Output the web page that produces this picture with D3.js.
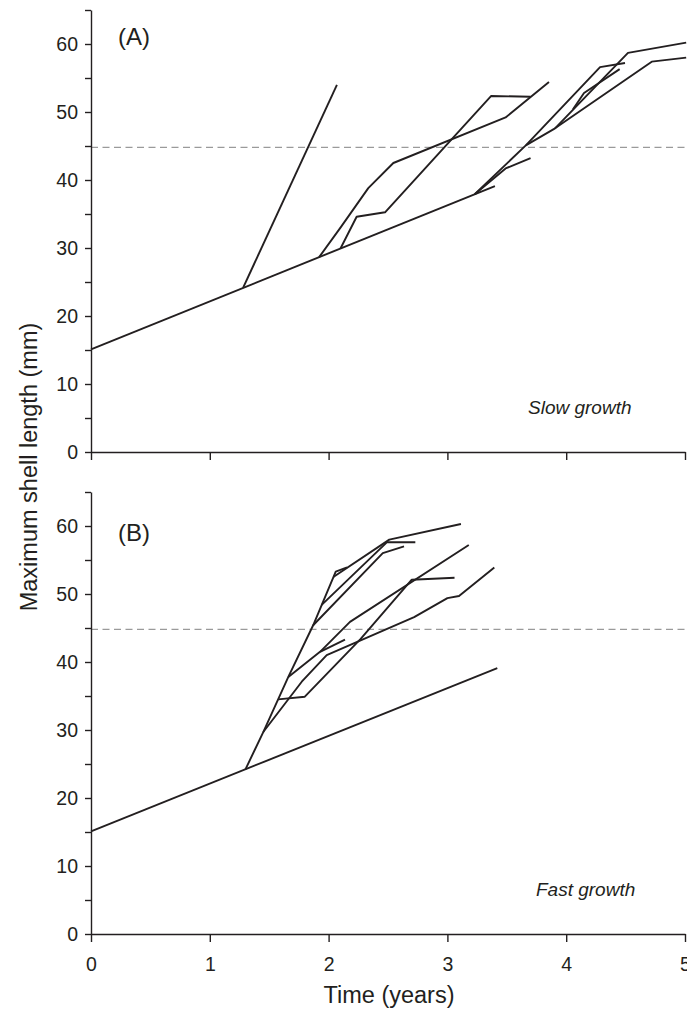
<!DOCTYPE html>
<html>
<head>
<meta charset="utf-8">
<script src="https://cdn.jsdelivr.net/npm/d3@7"></script>
<style>
  body { margin: 0; background: #fff; }
  text { font-family: "Liberation Sans", Arial, sans-serif; fill: #231f20; }
  .axis path, .axis line { stroke: #231f20; stroke-width: 1.4; }
  .axis text { font-size: 19.5px; fill: #231f20; }
</style>
</head>
<body>
<script>
// Size of the picture
var w = 687;
var h = 1009;

// Tick values
var years = [0, 1, 2, 3, 4, 5];
var lengthTicks = [0, 5, 10, 15, 20, 25, 30, 35, 40, 45, 50, 55, 60, 65];

// Size at maturity (dashed line), mm
var maturity = 44.8;

// Panel A, slow growth: [time (years), length (mm)]
var slowBaseline = [[0, 15.1], [3.40, 39.1]];
var slowTracks = [
  [[1.28, 24.14], [2.07, 54.0]],
  [[1.92, 28.65], [2.10, 33.0], [2.334, 38.8], [2.545, 42.5], [3.49, 49.2], [3.855, 54.4]],
  [[2.10, 29.92], [2.236, 34.6], [2.475, 35.25], [3.367, 52.35], [3.70, 52.25]],
  [[3.23, 37.9], [3.49, 41.7], [3.70, 43.2]],
  [[3.23, 37.9], [3.66, 45.1], [4.285, 56.6], [4.495, 57.2]],
  [[3.66, 45.1], [3.906, 47.6], [4.72, 57.4], [5.01, 58.0]],
  [[3.906, 47.6], [4.52, 58.7], [5.01, 60.2]],
  [[4.057, 50.4], [4.15, 52.8], [4.45, 56.3]]
];

// Panel B, fast growth
var fastBaseline = [[0, 15.1], [3.42, 39.1]];
var fastTracks = [
  [[1.30, 24.2], [1.45, 29.7], [1.661, 37.8], [1.87, 45.4], [2.06, 53.3], [2.155, 53.9]],
  [[2.04, 52.5], [2.511, 58.0], [3.114, 60.3]],
  [[1.942, 48.4], [2.49, 57.6], [2.73, 57.6]],
  [[1.87, 45.4], [2.456, 56.0], [2.635, 57.0]],
  [[1.661, 37.8], [1.928, 41.5], [2.18, 45.9], [3.18, 57.2]],
  [[1.928, 41.5], [2.138, 43.3]],
  [[1.45, 29.7], [1.774, 37.1], [1.984, 41.0], [2.72, 46.6], [3.0, 49.4], [3.098, 49.7], [3.395, 53.9]],
  [[1.575, 34.5], [1.80, 34.9], [2.27, 43.4], [2.70, 52.1], [3.06, 52.4]]
];

var svg = d3.select("body")
  .append("svg")
  .attr("width", w)
  .attr("height", h);

var xScale = d3.scaleLinear()
  .domain([0, 5])
  .range([91, 685]);

function drawPanel(y0, baseline, tracks, label, note, showYears) {
  var yScale = d3.scaleLinear()
    .domain([0, 65])
    .range([y0, y0 - 65 * 6.8]);

  var line = d3.line()
    .x(function(d) { return xScale(d[0]); })
    .y(function(d) { return yScale(d[1]); });

  // dashed maturity line
  svg.append("line")
    .attr("x1", xScale(0))
    .attr("x2", xScale(5))
    .attr("y1", yScale(maturity))
    .attr("y2", yScale(maturity))
    .attr("stroke", "#9a9a9a")
    .attr("stroke-width", 1.3)
    .attr("stroke-dasharray", "7,4.5");

  // growth trajectories
  svg.append("g")
    .selectAll("path")
    .data([baseline].concat(tracks))
    .enter()
    .append("path")
    .attr("d", line)
    .attr("fill", "none")
    .attr("stroke", "#231f20")
    .attr("stroke-width", 1.9)
    .attr("stroke-linejoin", "round");

  var yAxis = d3.axisLeft(yScale)
    .tickValues(lengthTicks)
    .tickSize(6)
    .tickSizeOuter(0)
    .tickPadding(7)
    .tickFormat(function(d) { return (d % 10 === 0 && d <= 60) ? d : ""; });

  var xAxis = d3.axisBottom(xScale)
    .tickValues(years)
    .tickSize(8)
    .tickSizeOuter(0)
    .tickPadding(15)
    .tickFormat(function(d) { return showYears ? d : ""; });

  svg.append("g")
    .attr("class", "axis")
    .attr("transform", "translate(0," + y0 + ")")
    .call(xAxis);

  svg.append("g")
    .attr("class", "axis")
    .attr("transform", "translate(" + xScale(0) + ",0)")
    .call(yAxis);

  svg.selectAll(".axis text").attr("font-family", null);

  svg.append("text")
    .attr("x", 118)
    .attr("y", label.y)
    .attr("font-size", "24px")
    .text(label.text);

  svg.append("text")
    .attr("x", note.x)
    .attr("y", y0 - 38)
    .attr("font-size", "19px")
    .attr("font-style", "italic")
    .text(note.text);
}

drawPanel(452, slowBaseline, slowTracks, { text: "(A)", y: 45 }, { text: "Slow growth", x: 528 }, false);
drawPanel(934, fastBaseline, fastTracks, { text: "(B)", y: 541 }, { text: "Fast growth", x: 536 }, true);

// Axis titles
svg.append("text")
  .attr("transform", "translate(37,467) rotate(-90)")
  .attr("text-anchor", "middle")
  .attr("font-size", "23.5px")
  .text("Maximum shell length (mm)");

svg.append("text")
  .attr("x", 389)
  .attr("y", 1003)
  .attr("text-anchor", "middle")
  .attr("font-size", "23.5px")
  .text("Time (years)");
</script>
</body>
</html>
